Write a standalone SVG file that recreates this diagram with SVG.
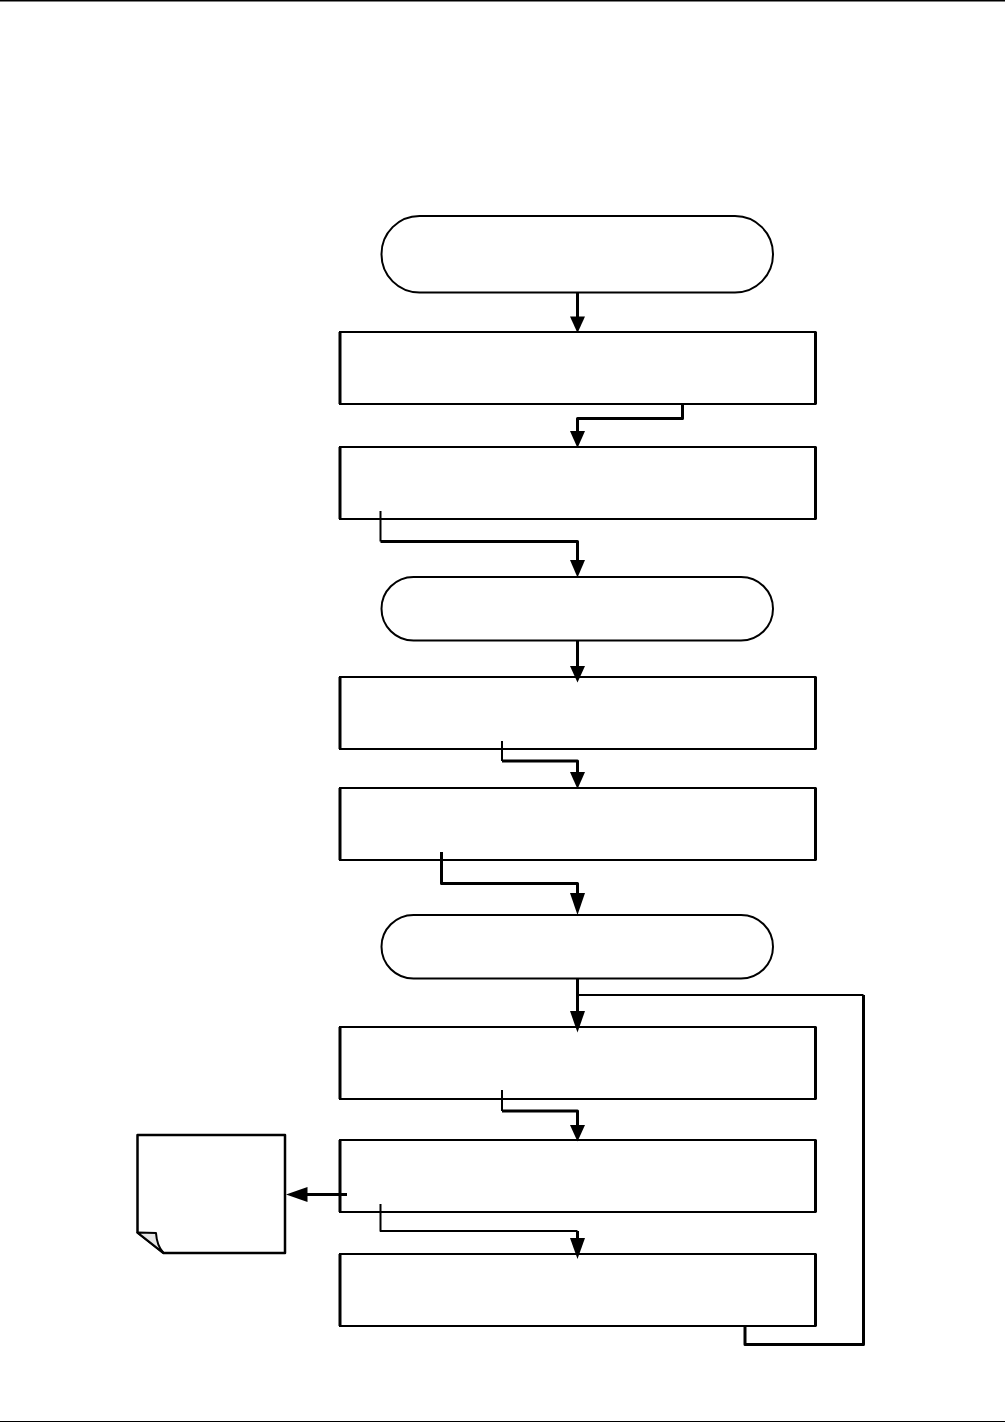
<svg xmlns="http://www.w3.org/2000/svg" width="1005" height="1422" viewBox="0 0 1005 1422">
<defs>
<style>
.n{fill:#fff;stroke:#000;stroke-width:2}
.s{fill:none;stroke:#000;stroke-width:3}
.r{stroke-width:2}
.c{fill:none;stroke:#000;stroke-width:3;stroke-linejoin:round}
.t{fill:none;stroke:#000;stroke-width:2;stroke-linejoin:round}
.a{fill:#000;stroke:none}
</style>
</defs>
<g id="page-rules">
<rect x="0" y="0" width="1005" height="1.5" fill="#000"/>
<rect x="0" y="1421" width="1005" height="1" fill="#000"/>
</g>
<g id="start"><rect class="n r" x="381.500" y="216" width="391.500" height="76.500" rx="38" ry="38"/></g>
<g id="box1"><rect class="n" x="340" y="332" width="475.500" height="72"/><path class="s" d="M340 332V404M815.500 332V404"/></g>
<g id="box2"><rect class="n" x="340" y="447" width="475.500" height="72"/><path class="s" d="M340 447V519M815.500 447V519"/></g>
<g id="term2"><rect class="n r" x="381.500" y="577" width="391.500" height="63.500" rx="32" ry="32"/></g>
<g id="box3"><rect class="n" x="340" y="677" width="475.500" height="72"/><path class="s" d="M340 677V749M815.500 677V749"/></g>
<g id="box4"><rect class="n" x="340" y="788" width="475.500" height="72"/><path class="s" d="M340 788V860M815.500 788V860"/></g>
<g id="term3"><rect class="n r" x="381.500" y="915" width="391.500" height="63.500" rx="32" ry="32"/></g>
<g id="box5"><rect class="n" x="340" y="1027" width="475.500" height="72"/><path class="s" d="M340 1027V1099M815.500 1027V1099"/></g>
<g id="box6"><rect class="n" x="340" y="1140" width="475.500" height="72"/><path class="s" d="M340 1140V1212M815.500 1140V1212"/></g>
<g id="box7"><rect class="n" x="340" y="1254" width="475.500" height="72"/><path class="s" d="M340 1254V1326M815.500 1254V1326"/></g>
<g id="note">
<path class="n" style="stroke-width:2.500" stroke-linejoin="round" d="M137.500 1135H285V1253H163.500L137.500 1232.500Z"/>
<path d="M137.500 1232.500L156 1233C156.500 1241 159 1248 163.500 1253Z" fill="#e6e6e6" stroke="#000" stroke-width="2" stroke-linejoin="round"/>
</g>
<g id="connectors">
<path class="c" d="M577.500 292V318"/>
<path class="a" d="M570 316.500H585L577.500 333Z"/>
<path class="c" d="M682.500 404V418.500H577.500V432"/>
<path class="a" d="M570 431H585L577.500 448Z"/>
<path class="t" d="M380.500 511V541.500"/>
<path class="c" d="M380.500 541.500H577.500V560"/>
<path class="a" d="M570 560H585L577.500 577.500Z"/>
<path class="c" d="M577.500 640.500V668"/>
<path class="a" d="M570 666H585L577.500 682.500Z"/>
<path class="t" d="M502 741V761"/>
<path class="c" d="M502 761H577.500V775"/>
<path class="a" d="M570 772H585L577.500 789Z"/>
<path class="c" d="M441.500 852V883.500H577.500V898"/>
<path class="a" d="M570 893H585L577.500 915Z"/>
<path class="c" d="M577.500 978V1018"/>
<path class="a" d="M570 1011H585L577.500 1032.500Z"/>
<path class="t" d="M577.500 995H863.500"/>
<path class="c" d="M863.500 995V1344.500H745V1326"/>
<path class="t" d="M502 1090V1111"/>
<path class="c" d="M502 1111H577.500V1128"/>
<path class="a" d="M570 1125H585L577.500 1141.500Z"/>
<path class="c" d="M347 1194.500H300"/>
<path class="a" d="M307.500 1187V1202L286 1194.500Z"/>
<path class="t" d="M380.500 1204V1231H577.500"/>
<path class="c" d="M577.500 1231V1242"/>
<path class="a" d="M570 1238H585L577.500 1259Z"/>
</g>
</svg>
